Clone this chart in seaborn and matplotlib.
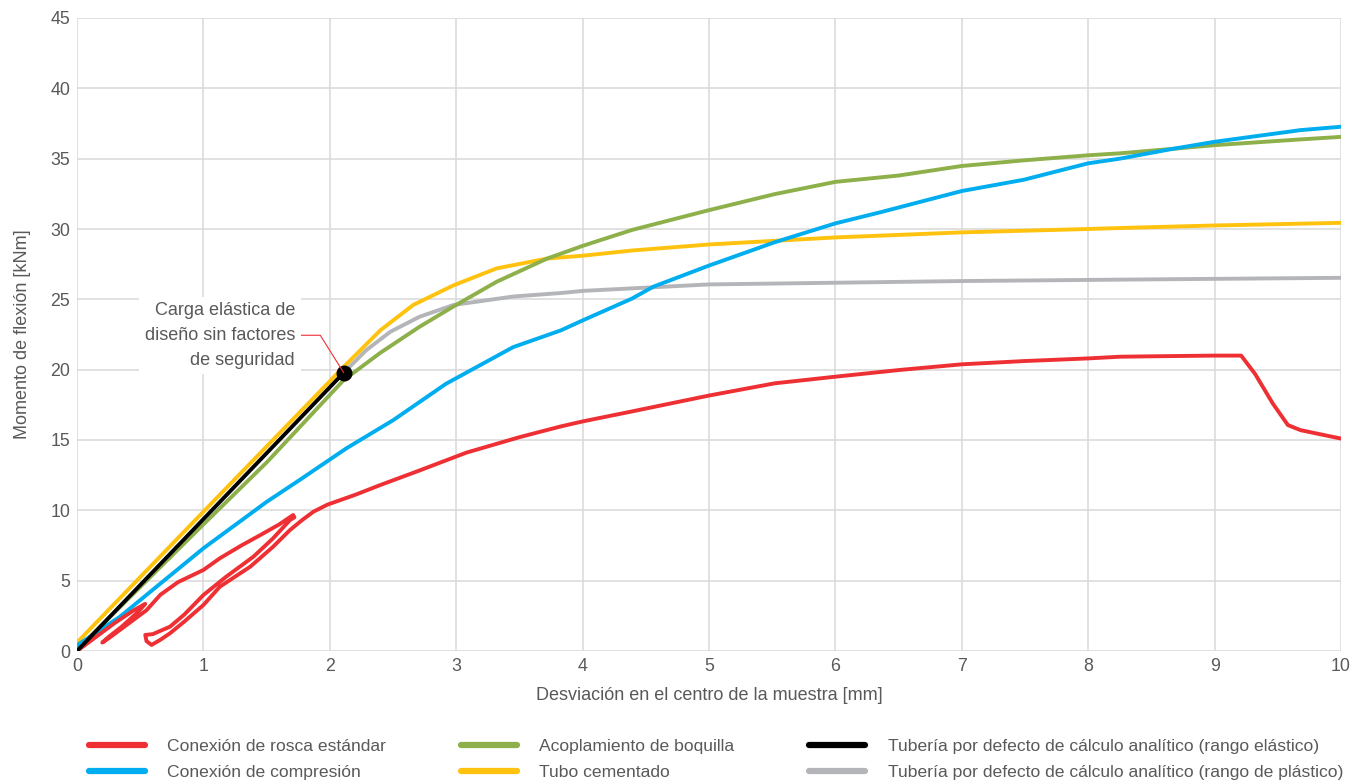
import numpy as np
import pandas as pd
import matplotlib
matplotlib.use("Agg")
import matplotlib.pyplot as plt
import seaborn as sns

# --- data ---
rosca_x = [0, 0.15, 0.3, 0.45, 0.54, 0.48, 0.35, 0.25, 0.2, 0.25, 0.4, 0.55,
           0.66, 0.8, 1.0, 1.13, 1.3, 1.45, 1.6, 1.71, 1.72, 1.685, 1.55, 1.395,
           1.18, 1.0, 0.85, 0.736, 0.6, 0.54, 0.55, 0.59, 0.66, 0.736, 0.85, 1.0,
           1.13, 1.37, 1.55, 1.685, 1.78, 1.87, 1.98, 2.2, 2.4, 2.7, 3.08, 3.5,
           3.83, 4.0, 4.39, 5.0, 5.52, 6.0, 6.51, 7.0, 7.49, 8.0, 8.25, 8.5, 9.0,
           9.21, 9.32, 9.46, 9.58, 9.68, 10.0]
rosca_y = [0, 1.0, 2.0, 2.9, 3.35, 2.75, 1.7, 1.0, 0.6, 0.9, 1.9, 2.9,
           4.0, 4.9, 5.76, 6.59, 7.5, 8.24, 9.0, 9.67, 9.5, 9.31, 8.0, 6.7,
           5.28, 3.98, 2.6, 1.73, 1.2, 1.14, 0.7, 0.43, 0.8, 1.26, 2.1, 3.27,
           4.57, 5.99, 7.4, 8.6, 9.3, 9.9, 10.4, 11.1, 11.8, 12.8, 14.1, 15.2,
           15.97, 16.32, 17.03, 18.16, 19.03, 19.5, 19.98, 20.38, 20.61, 20.8, 20.92, 20.95, 21.0,
           21.0, 19.7, 17.6, 16.06, 15.7, 15.1]

compresion_x = [0, 0.34, 1.0, 1.5, 1.76, 2.13, 2.5, 2.92, 3.45, 3.83, 4.0, 4.39,
                4.56, 5.0, 5.52, 6.0, 6.36, 7.0, 7.49, 8.0, 8.25, 8.67, 9.0, 9.68, 10.0]
compresion_y = [0.4, 2.44, 7.3, 10.6, 12.15, 14.4, 16.4, 19.0, 21.6, 22.8, 23.5, 25.05,
                25.9, 27.4, 29.06, 30.4, 31.2, 32.7, 33.5, 34.67, 35.0, 35.7, 36.2, 37.03, 37.27]

boquilla_x = [0, 1.0, 1.5, 2.11, 2.4, 2.71, 2.98, 3.32, 3.72, 4.0, 4.39, 5.0,
              5.52, 6.0, 6.5, 7.0, 7.49, 8.0, 8.25, 8.67, 9.0, 9.68, 10.0]
boquilla_y = [0.1, 9.0, 13.4, 19.26, 21.2, 23.05, 24.5, 26.25, 27.9, 28.8, 29.93, 31.34,
              32.48, 33.35, 33.8, 34.48, 34.88, 35.24, 35.38, 35.7, 35.96, 36.37, 36.55]

cementado_x = [0, 1.0, 2.11, 2.4, 2.66, 2.98, 3.32, 3.72, 4.0, 4.39, 5.0, 6.0,
               7.0, 8.0, 8.25, 9.0, 10.0]
cementado_y = [0.6, 9.9, 20.2, 22.8, 24.6, 26.0, 27.2, 27.9, 28.1, 28.47, 28.9, 29.4,
               29.76, 30.0, 30.07, 30.25, 30.44]

elastico_x = [0, 2.11]
elastico_y = [0, 19.78]

plastico_x = [2.11, 2.29, 2.48, 2.71, 2.98, 3.45, 3.83, 4.0, 5.0, 6.0, 7.0, 8.25, 10.0]
plastico_y = [19.78, 21.4, 22.7, 23.76, 24.6, 25.2, 25.45, 25.6, 26.06, 26.18, 26.3, 26.4, 26.53]

series = [
    ("Conexión de rosca estándar", rosca_x, rosca_y, "#ee3035"),
    ("Conexión de compresión", compresion_x, compresion_y, "#00aeef"),
    ("Acoplamiento de boquilla", boquilla_x, boquilla_y, "#8db04a"),
    ("Tubo cementado", cementado_x, cementado_y, "#ffc20e"),
    ("Tubería por defecto de cálculo analítico (rango elástico)", elastico_x, elastico_y, "#000000"),
    ("Tubería por defecto de cálculo analítico (rango de plástico)", plastico_x, plastico_y, "#b3b5b8"),
]
draw_order = [5, 3, 2, 1, 0, 4]

sns.set_theme(style="whitegrid")
plt.rcParams["font.family"] = ["Liberation Sans", "DejaVu Sans"]
text_col = "#595959"
fs = 12.8

fig = plt.figure(figsize=(13.53, 7.83), dpi=100)
ax = fig.add_axes([77 / 1353, 1 - 651 / 783, (1341 - 77) / 1353, (651 - 18) / 783])

for i in draw_order:
    name, xs, ys, col = series[i]
    df = pd.DataFrame({"x": xs, "y": ys})
    sns.lineplot(data=df, x="x", y="y", sort=False, estimator=None, color=col,
                 lw=2.8, ax=ax, label=name, zorder=3 + draw_order.index(i))

# design point at end of elastic range
ax.scatter([elastico_x[-1]], [elastico_y[-1]], s=110, color="black", zorder=20)

ax.annotate("Carga elástica de\ndiseño sin factores\nde seguridad",
            xy=(elastico_x[-1], elastico_y[-1]), xytext=(-35, 27),
            textcoords="offset points", ha="right", va="center",
            fontsize=13, color=text_col, linespacing=1.6,
            bbox=dict(boxstyle="square,pad=0.3", fc="white", ec="none"),
            arrowprops=dict(arrowstyle="-", color="#ee3035", lw=0.8,
                            connectionstyle="angle,angleA=0,angleB=122,rad=0",
                            shrinkA=0, shrinkB=0),
            zorder=25)

ax.set_xlim(0, 10)
ax.set_ylim(0, 45)
ax.set_xticks(range(0, 11))
ax.set_yticks(range(0, 46, 5))
ax.grid(True, color="#d9d9d9", lw=1.1)
for s in ax.spines.values():
    s.set_visible(False)
ax.tick_params(axis="both", length=0, labelsize=fs, labelcolor=text_col, pad=5)
ax.set_xlabel("Desviación en el centro de la muestra [mm]", fontsize=13,
              color=text_col, labelpad=9)
ax.set_ylabel("Momento de flexión [kNm]", fontsize=13, color=text_col, labelpad=14)

ax.get_legend().remove()
leg_handles = [plt.Line2D([], [], color=c, lw=4.5) for _, _, _, c in series]
leg_labels = [n for n, _, _, _ in series]
leg = fig.legend(leg_handles, leg_labels, ncol=3, loc="center left",
                 bbox_to_anchor=(80 / 1353, 1 - 759.5 / 783), frameon=False,
                 fontsize=12.6, handlelength=3.2, handletextpad=1.26,
                 columnspacing=4.3, labelspacing=0.64, borderpad=0)
for t in leg.get_texts():
    t.set_color(text_col)

fig.savefig("out.png", dpi=100)
